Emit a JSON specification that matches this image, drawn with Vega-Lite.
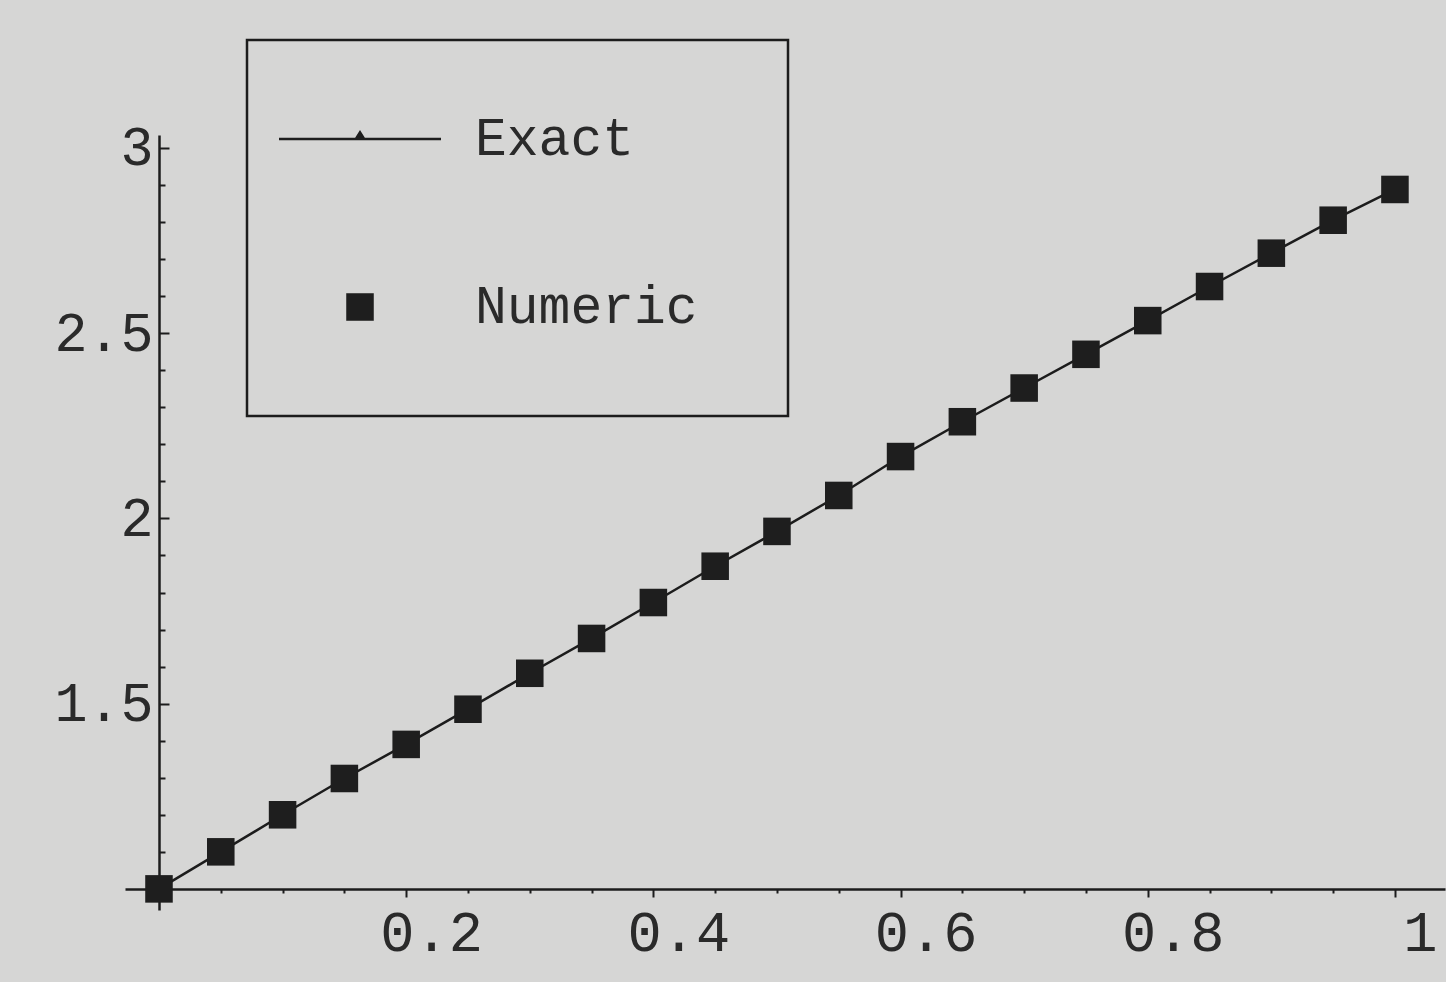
{
  "$schema": "https://vega.github.io/schema/vega-lite/v6.json",
  "width": 1320,
  "height": 775,
  "autosize": {"type": "none"},
  "padding": {"left": 125, "top": 135, "right": 1, "bottom": 72},
  "background": "#d6d6d5",
  "config": {
    "view": {"stroke": null},
    "font": "Liberation Mono",
    "legend": {"strokeWidth": 2.5}
  },
  "data": {
    "values": [
      {"x": 0.00, "Exact": 1.000, "Numeric": 1.000},
      {"x": 0.05, "Exact": 1.100, "Numeric": 1.100},
      {"x": 0.10, "Exact": 1.200, "Numeric": 1.200},
      {"x": 0.15, "Exact": 1.298, "Numeric": 1.298},
      {"x": 0.20, "Exact": 1.390, "Numeric": 1.390},
      {"x": 0.25, "Exact": 1.485, "Numeric": 1.485},
      {"x": 0.30, "Exact": 1.582, "Numeric": 1.582},
      {"x": 0.35, "Exact": 1.676, "Numeric": 1.676},
      {"x": 0.40, "Exact": 1.773, "Numeric": 1.773},
      {"x": 0.45, "Exact": 1.871, "Numeric": 1.871},
      {"x": 0.50, "Exact": 1.965, "Numeric": 1.965},
      {"x": 0.55, "Exact": 2.062, "Numeric": 2.062},
      {"x": 0.60, "Exact": 2.167, "Numeric": 2.167},
      {"x": 0.65, "Exact": 2.261, "Numeric": 2.261},
      {"x": 0.70, "Exact": 2.352, "Numeric": 2.352},
      {"x": 0.75, "Exact": 2.443, "Numeric": 2.443},
      {"x": 0.80, "Exact": 2.534, "Numeric": 2.534},
      {"x": 0.85, "Exact": 2.626, "Numeric": 2.626},
      {"x": 0.90, "Exact": 2.716, "Numeric": 2.716},
      {"x": 0.95, "Exact": 2.805, "Numeric": 2.805},
      {"x": 1.00, "Exact": 2.888, "Numeric": 2.888}
    ]
  },
  "transform": [{"fold": ["Exact", "Numeric"], "as": ["series", "y"]}],
  "encoding": {
    "x": {
      "field": "x",
      "type": "quantitative",
      "scale": {"domain": [-0.0275, 1.0405], "nice": false, "zero": false},
      "axis": {
        "title": null,
        "grid": false,
        "values": [0.05, 0.1, 0.15, 0.2, 0.25, 0.3, 0.35, 0.4, 0.45, 0.5, 0.55, 0.6, 0.65, 0.7, 0.75, 0.8, 0.85, 0.9, 0.95, 1.0],
        "format": "~g",
        "labelExpr": "abs(datum.value*5-round(datum.value*5))<0.001 ? datum.label : ''",
        "tickSize": {"condition": {"test": "abs(datum.value*5-round(datum.value*5))<0.001", "value": 8}, "value": 4},
        "offset": -21,
        "domainColor": "#1c1c1c",
        "domainWidth": 2.5,
        "tickColor": "#1c1c1c",
        "tickWidth": 2,
        "labelFont": "Liberation Mono",
        "labelFontSize": 57,
        "labelColor": "#2a2a2a",
        "labelPadding": 8,
        "labelOffset": 25,
        "labelOverlap": false,
        "labelFlush": false
      }
    },
    "y": {
      "field": "y",
      "type": "quantitative",
      "scale": {"domain": [0.943, 3.035], "nice": false, "zero": false},
      "axis": {
        "title": null,
        "grid": false,
        "values": [1.1, 1.2, 1.3, 1.4, 1.5, 1.6, 1.7, 1.8, 1.9, 2.0, 2.1, 2.2, 2.3, 2.4, 2.5, 2.6, 2.7, 2.8, 2.9, 3.0],
        "format": "~g",
        "labelExpr": "abs(datum.value*2-round(datum.value*2))<0.001 ? datum.label : ''",
        "tickSize": {"condition": {"test": "abs(datum.value*2-round(datum.value*2))<0.001", "value": -10}, "value": -6},
        "offset": -34,
        "domainColor": "#1c1c1c",
        "domainWidth": 2.5,
        "tickColor": "#1c1c1c",
        "tickWidth": 2,
        "labelFont": "Liberation Mono",
        "labelFontSize": 55,
        "labelColor": "#2a2a2a",
        "labelPadding": 16,
        "labelOverlap": false,
        "labelFlush": false
      }
    }
  },
  "layer": [
    {
      "transform": [{"filter": "datum.series === 'Exact'"}],
      "mark": {"type": "line", "color": "#1c1c1c", "strokeWidth": 2.5}
    },
    {
      "transform": [{"filter": "datum.series === 'Numeric'"}],
      "mark": {"type": "point", "filled": true, "size": 26244, "color": "#1e1e1e", "opacity": 1},
      "encoding": {
        "shape": {
          "field": "series",
          "type": "nominal",
          "scale": {
            "domain": ["Exact", "Numeric"],
            "range": ["M-1,-0.015H-0.06L0,-0.11L0.06,-0.015H1V0.015H-1Z", "M-0.17,-0.17H0.17V0.17H-0.17Z"]
          },
          "legend": {
            "title": "---------------------",
            "titleOpacity": 0,
            "titleOrient": "bottom",
            "titleFont": "Liberation Mono",
            "titleFontSize": 40,
            "titlePadding": 24,
            "titleLimit": 2000,
            "orient": "none",
            "legendX": 122,
            "legendY": -95,
            "padding": 18,
            "symbolOffset": 14,
            "labelOffset": 34,
            "rowPadding": 60,
            "strokeColor": "#1c1c1c",
            "fillColor": null,
            "symbolSize": 26244,
            "symbolStrokeWidth": 0,
            "symbolFillColor": "#1e1e1e",
            "symbolStrokeColor": "#1e1e1e",
            "labelFont": "Liberation Mono",
            "labelFontSize": 53,
            "labelColor": "#2a2a2a",
            "labelLimit": 1000
          }
        }
      }
    }
  ]
}
